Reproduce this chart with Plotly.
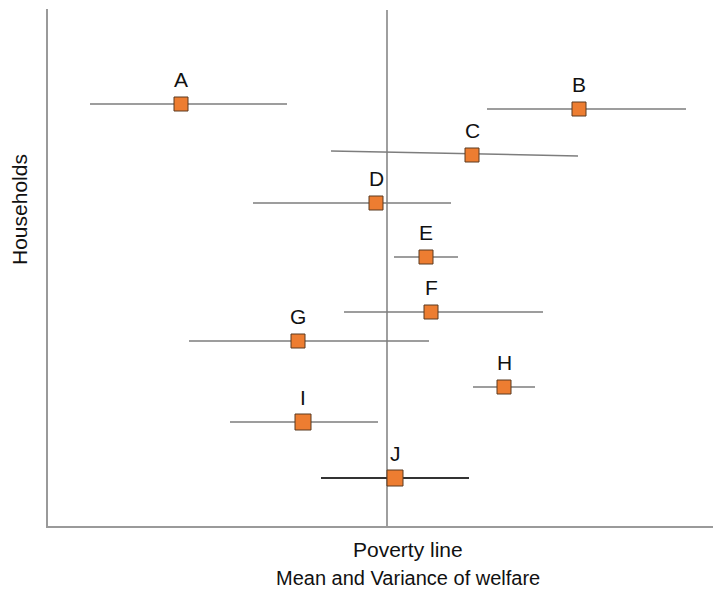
import plotly.graph_objects as go

# Households (labels), mean welfare and spread (low/high ends), vertical position
households = ["A", "B", "C", "D", "E", "F", "G", "H", "I", "J"]
mean_welfare = [181, 579, 472, 376, 426, 431, 298, 504, 303, 395]
low_welfare = [90, 487, 331, 253, 394, 344, 189, 473, 230, 321]
high_welfare = [287, 686, 578, 451, 458, 543, 429, 535, 378, 469]
position = [422, 417, 371, 323, 269, 214, 185, 139, 104, 48]
spread_left_pos = [422, 417, 375, 323, 269, 214, 185, 139, 104, 48]
spread_right_pos = [422, 417, 370, 323, 269, 214, 185, 139, 104, 48]
poverty_line = 387

FONT = "Liberation Sans, Arial"
fig = go.Figure()

# spread lines
for i, h in enumerate(households):
    dark = (h == "J")
    fig.add_trace(go.Scatter(
        x=[low_welfare[i], high_welfare[i]],
        y=[spread_left_pos[i], spread_right_pos[i]],
        mode="lines",
        line=dict(color="#333333" if dark else "#7d7d7d", width=2 if dark else 1.5),
        showlegend=False, hoverinfo="skip",
    ))

# means
fig.add_trace(go.Scatter(
    x=mean_welfare, y=position, mode="markers",
    marker=dict(symbol="square", opacity=1,
                size=[16 if h in ("I", "J") else 14 for h in households],
                color="#ED7D31", line=dict(color="#5a3a20", width=1)),
    showlegend=False, cliponaxis=False,
))

fig.add_shape(type="line", xref="x", yref="paper", x0=poverty_line, x1=poverty_line,
              y0=0, y1=0.998, line=dict(color="#5e5e5e", width=1.2), layer="below")

annotations = []
for i, h in enumerate(households):
    annotations.append(dict(text=h, x=mean_welfare[i], y=position[i], xref="x", yref="y",
                            yshift=25, showarrow=False, xanchor="center", yanchor="middle",
                            font=dict(family=FONT, size=21, color="#111")))

# page offset compensation (body margin 8px)
OFF = 8
W, H = 721, 591
L, R, T, B = 48 - OFF, OFF, 9 - OFF, H - 526 + OFF
plot_h = H - T - B
plot_w = W - L - R

def py(page_y):
    return (H - B - (page_y - OFF)) / plot_h

def px(page_x):
    return ((page_x - OFF) - L) / plot_w

annotations += [
    dict(text="Poverty line", x=px(408), xref="paper", y=py(549), yref="paper",
         xanchor="center", yanchor="middle",
         showarrow=False, font=dict(family=FONT, size=21, color="#111")),
    dict(text="Mean and Variance of welfare", x=px(408), xref="paper", y=py(578), yref="paper",
         xanchor="center", yanchor="middle",
         showarrow=False, font=dict(family=FONT, size=20, color="#111")),
    dict(text="Households", x=px(19), xref="paper", y=py(210), yref="paper", textangle=-90,
         xanchor="center", yanchor="middle",
         showarrow=False, font=dict(family=FONT, size=21, color="#111")),
]

fig.update_layout(
    width=W, height=H,
    margin=dict(l=L, r=R, t=T, b=B),
    paper_bgcolor="white", plot_bgcolor="white",
    xaxis=dict(range=[48, 721], showgrid=False, zeroline=False, showticklabels=False,
               ticks="", showline=True, linecolor="#9a9a9a", linewidth=2),
    yaxis=dict(range=[0, 517], showgrid=False, zeroline=False, showticklabels=False,
               ticks="", showline=True, linecolor="#9a9a9a", linewidth=2),
    annotations=annotations,
)

fig.write_html("out.html")
